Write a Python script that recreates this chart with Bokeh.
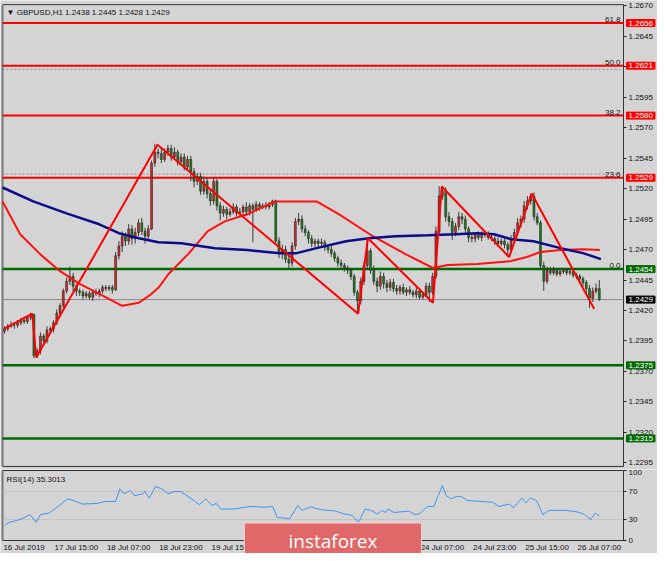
from bokeh.plotting import figure
from bokeh.layouts import column
from bokeh.models import (ColumnDataSource, Label, FixedTicker, PrintfTickFormatter,
                          LinearAxis)
from bokeh.embed import file_html
from bokeh.resources import INLINE

# ---------------- data ----------------
title_text = "\u25BC GBPUSD,H1  1.2438 1.2445 1.2428 1.2429"
rsi_title = "RSI(14) 35.3013"

first_open = 1.2403
closes = [
    1.2405, 1.2407, 1.2408, 1.2408, 1.2410, 1.2412, 1.2411, 1.2414, 1.2417, 1.2383,
    1.2387, 1.2399, 1.2395, 1.2404, 1.2405, 1.2410, 1.2418, 1.2424, 1.2436, 1.2444,
    1.2448, 1.2440, 1.2436, 1.2435, 1.2432, 1.2434, 1.2431, 1.2435, 1.2434, 1.2436,
    1.2439, 1.2438, 1.2439, 1.2437, 1.2465, 1.2473, 1.2481, 1.2477, 1.2487, 1.2479,
    1.2484, 1.2492, 1.2485, 1.2481, 1.2487, 1.2541, 1.2550, 1.2549, 1.2544, 1.2550,
    1.2553, 1.2546, 1.2550, 1.2542, 1.2546, 1.2538, 1.2544, 1.2534, 1.2526, 1.2530,
    1.2518, 1.2526, 1.2516, 1.2510, 1.2526, 1.2506, 1.2500, 1.2503, 1.2499, 1.2501,
    1.2505, 1.2500, 1.2501, 1.2505, 1.2501, 1.2506, 1.2503, 1.2507, 1.2505, 1.2506,
    1.2505, 1.2507, 1.2510, 1.2477, 1.2467, 1.2470, 1.2462, 1.2459, 1.2473, 1.2493,
    1.2495, 1.2487, 1.2484, 1.2479, 1.2475, 1.2477, 1.2475, 1.2476, 1.2472, 1.2470,
    1.2467, 1.2463, 1.2459, 1.2457, 1.2455, 1.2453, 1.2448, 1.2435, 1.2428, 1.2444,
    1.2457, 1.2469, 1.2453, 1.2444, 1.2440, 1.2448, 1.2442, 1.2439, 1.2443, 1.2438,
    1.2436, 1.2439, 1.2435, 1.2437, 1.2435, 1.2433, 1.2436, 1.2431, 1.2433, 1.2440,
    1.2435, 1.2448, 1.2485, 1.2514, 1.2518, 1.2497, 1.2493, 1.2484, 1.2489, 1.2497,
    1.2495, 1.2487, 1.2480, 1.2479, 1.2482, 1.2480, 1.2483, 1.2482, 1.2480, 1.2479,
    1.2477, 1.2475, 1.2477, 1.2474, 1.2470, 1.2479, 1.2484, 1.2492, 1.2495, 1.2506,
    1.2510, 1.2514, 1.2497, 1.2492, 1.2457, 1.2444, 1.2453, 1.2451, 1.2453, 1.2450,
    1.2452, 1.2453, 1.2451, 1.2452, 1.2449, 1.2448, 1.2446, 1.2443, 1.2438, 1.2430,
    1.2436, 1.2438, 1.2429,
]
# wick lengths in pips above max(open, close) and below min(open, close)
upper_wick = [
    2, 2, 3, 2, 2, 2, 3, 2, 1, 0,
    2, 3, 2, 3, 2, 2, 3, 2, 2, 3,
    8, 3, 2, 2, 2, 2, 2, 2, 3, 2,
    2, 2, 2, 2, 3, 4, 4, 3, 4, 3,
    4, 3, 4, 3, 3, 2, 7, 3, 4, 3,
    3, 3, 4, 2, 3, 3, 3, 3, 3, 3,
    3, 4, 3, 3, 3, 2, 3, 3, 2, 3,
    3, 2, 3, 2, 4, 2, 2, 3, 2, 2,
    3, 2, 1, 1, 3, 4, 3, 3, 3, 3,
    5, 3, 3, 2, 3, 2, 2, 3, 2, 2,
    3, 2, 2, 3, 2, 2, 2, 2, 2, 3,
    3, 10, 2, 4, 3, 4, 3, 3, 3, 3,
    3, 2, 3, 2, 3, 2, 3, 2, 2, 3,
    3, 3, 4, 8, 4, 3, 4, 3, 3, 4,
    3, 3, 2, 3, 2, 3, 2, 2, 3, 2,
    2, 3, 2, 2, 2, 3, 3, 4, 3, 4,
    4, 2, 3, 3, 2, 3, 3, 3, 3, 2,
    3, 2, 2, 3, 2, 2, 2, 2, 2, 3,
    3, 4, 7,
]
lower_wick = [
    2, 2, 1, 3, 2, 2, 2, 2, 2, 2,
    2, 3, 4, 2, 3, 3, 2, 3, 2, 2,
    3, 4, 4, 3, 3, 2, 2, 3, 2, 3,
    2, 2, 2, 3, 1, 3, 5, 4, 3, 5,
    4, 3, 3, 6, 3, 1, 3, 4, 3, 2,
    3, 3, 2, 3, 2, 3, 2, 8, 5, 3,
    3, 3, 4, 4, 3, 4, 6, 3, 4, 2,
    2, 3, 2, 3, 3, 3, 27, 2, 3, 2,
    2, 2, 2, 3, 4, 5, 3, 4, 3, 3,
    3, 3, 3, 4, 3, 3, 3, 2, 3, 3,
    3, 3, 3, 2, 3, 3, 3, 3, 11, 3,
    3, 3, 3, 3, 5, 3, 4, 4, 3, 3,
    3, 3, 2, 3, 2, 2, 3, 2, 2, 2,
    8, 2, 2, 3, 3, 4, 4, 6, 3, 3,
    4, 3, 4, 3, 3, 2, 3, 2, 2, 2,
    3, 3, 2, 3, 6, 2, 3, 3, 4, 3,
    3, 3, 3, 2, 3, 8, 2, 2, 2, 2,
    2, 2, 2, 2, 2, 2, 3, 3, 4, 8,
    3, 2, 1,
]

# ZigZag pivots (bar index, price)
zz_bar = [0, 8.5, 9.7, 46.8, 108.2, 111.2, 131.1, 133.8, 154.4, 161.3, 180.4]
zz_price = [1.24052, 1.24174, 1.23815, 1.25561, 1.24174, 1.24794, 1.24264, 1.25218, 1.24639, 1.25161, 1.24215]

# Blue moving average (bar index, price)
ma_blue_bar = [-0.6, 8.8, 19.0, 29.0, 35.0, 41.1, 47.1, 54.1, 64.4, 74.3, 84.3, 89.4, 95.5,
               104.5, 111.5, 119.6, 129.6, 137.8, 144.7, 149.8, 155.0, 161.9, 170.1, 177.0, 182.5]
ma_blue = [1.25210, 1.25096, 1.24998, 1.24908, 1.24835, 1.24794, 1.24761, 1.24753, 1.24712,
           1.24696, 1.24671, 1.24671, 1.24712, 1.24769, 1.24794, 1.24810, 1.24818, 1.24826,
           1.24835, 1.24826, 1.24786, 1.24769, 1.24712, 1.24671, 1.24622]

# Red moving average (bar index, price)
ma_red_bar = [-0.6, 4.8, 10.9, 16.9, 23.0, 29.0, 36.0, 41.1, 45.0, 47.1, 50.2, 56.2, 62.2,
              67.4, 74.3, 82.8, 95.5, 102.4, 112.7, 122.7, 131.1, 135.6, 144.7, 155.0,
              159.8, 164.0, 170.1, 177.0, 182.2]
ma_red = [1.25096, 1.24826, 1.24663, 1.24525, 1.24419, 1.24337, 1.24239, 1.24264, 1.24337,
          1.24386, 1.24500, 1.24663, 1.24851, 1.24932, 1.24990, 1.25096, 1.25096, 1.24990,
          1.24810, 1.24663, 1.24549, 1.24574, 1.24582, 1.24606, 1.24639, 1.24680, 1.24696,
          1.24704, 1.24696]

# RSI(14) points (bar index, value)
rsi_bar = [0, 1.4, 3.9, 5.8, 7.8, 9.7, 11.0, 13.5, 14.8, 16.7, 19.3, 21.2, 23.8, 28.3, 30.8,
           34.0, 35.3, 36.6, 38.5, 39.8, 42.3, 43.0, 44.3, 46.2, 48.1, 50.0, 52.0, 53.9,
           57.7, 59.6, 61.6, 63.5, 64.8, 66.1, 70.5, 75.0, 79.5, 82.1, 83.4, 85.9, 87.2,
           89.8, 91.0, 93.6, 96.8, 101.3, 103.9, 106.4, 108.3, 110.3, 112.2, 114.1, 115.4,
           116.7, 117.3, 119.2, 123.7, 125.6, 126.9, 129.5, 131.4, 132.7, 134.0, 135.2,
           136.5, 138.4, 139.7, 141.7, 146.1, 149.3, 151.3, 154.5, 155.7, 158.3, 159.6,
           160.9, 162.8, 164.7, 166.6, 171.8, 175.6, 177.5, 179.4, 180.7, 182.0]
rsi_val = [21.4, 26, 28.6, 32, 37, 26, 37, 39, 43, 50, 59.5, 57, 52, 53, 55.7,
           55.7, 73.8, 66.7, 71.4, 64, 66.7, 70, 60.5, 77, 74, 66.7, 70, 70,
           58, 51, 59.5, 50, 53, 45, 45, 48.6, 47.6, 48.6, 33, 32, 31,
           50, 43, 48, 44, 42, 38, 35.7, 26, 45, 43, 38, 43,
           40, 45, 40, 42, 37, 38, 48.6, 48.6, 64, 78.6, 64,
           59.5, 63, 63, 57, 55.7, 54.8, 48.6, 52, 46.7, 60.5, 53.8,
           61, 57, 37, 43, 43, 40.5, 37, 30, 39, 35.3]

price_ticks = [1.2295, 1.2320, 1.2345, 1.2370, 1.2395, 1.2420, 1.2445, 1.2470, 1.2495,
               1.2520, 1.2545, 1.2570, 1.2595, 1.2620, 1.2645, 1.2670]
rsi_ticks = [0, 30, 70, 100]
rsi_levels = [70, 30]

red_levels = [1.2656, 1.2621, 1.2580, 1.2529]
green_levels = [1.2454, 1.2375, 1.2315]
fib_levels = [1.2656, 1.2621, 1.2580, 1.2529, 1.2454]
fib_names = ["61.8", "50.0", "38.2", "23.6", "0.0"]
fib_dotted = [1.2618, 1.2532]
last_price = 1.2429

time_bars = [0, 16, 32, 48, 64, 80, 96, 112, 128, 144, 160, 176]
time_labels = ["16 Jul 2019", "17 Jul 15:00", "18 Jul 07:00", "18 Jul 23:00", "19 Jul 15:00",
               "22 Jul 07:00", "22 Jul 23:00", "23 Jul 15:00", "24 Jul 07:00", "24 Jul 23:00",
               "25 Jul 15:00", "26 Jul 07:00"]
watermark = "instaforex"

# ---------------- build ----------------
FONT = "Liberation Sans"
BG = "#d4d4d4"
XR = (-1.22, 199.8)      # whole canvas width, bars
AX = 189.4               # bar position of the price-axis line
LEFT = -0.6              # bar position of the left panel border
FW = 657
P_TOP, P_BOT = 1.26711, 1.22920   # main panel border prices

bars = list(range(len(closes)))
opens = [first_open] + closes[:-1]
highs = [max(o, c) + u / 10000 for o, c, u in zip(opens, closes, upper_wick)]
lows = [min(o, c) - d / 10000 for o, c, d in zip(opens, closes, lower_wick)]
tops = [max(o, c) for o, c in zip(opens, closes)]
bots = [min(o, c) for o, c in zip(opens, closes)]
colors = ["#cc2a2a" if c > o else "#1f7a1f" for o, c in zip(opens, closes)]
src = ColumnDataSource(dict(x=bars, h=highs, l=lows, top=tops, bottom=bots, color=colors))


def make_yaxis(ticks, fmt=None):
    ax = LinearAxis(fixed_location=AX, ticker=FixedTicker(ticks=ticks))
    if fmt:
        ax.formatter = PrintfTickFormatter(format=fmt)
    ax.major_label_text_font = FONT
    ax.major_label_text_font_size = "8px"
    ax.major_label_text_color = "#111111"
    ax.major_tick_in = 0
    ax.major_tick_out = 3
    ax.major_tick_line_color = "#222222"
    ax.minor_tick_out = 0
    ax.minor_tick_in = 0
    ax.major_label_standoff = 2
    ax.axis_line_color = None
    return ax


main = figure(frame_width=FW, frame_height=469, x_range=XR, y_range=(1.22895, 1.26745),
              output_backend="svg", toolbar_location=None, x_axis_location=None,
              y_axis_location=None, min_border=0,
              background_fill_color=BG, border_fill_color=BG, outline_line_color=None)
main.grid.visible = False
main.add_layout(make_yaxis(price_ticks, "%.4f"), "right")

# panel border
main.segment(x0=[LEFT, LEFT, LEFT, AX], y0=[P_TOP, P_BOT, P_BOT, P_BOT],
             x1=[AX, AX, LEFT, AX], y1=[P_TOP, P_BOT, P_TOP, P_TOP],
             line_color=["#333333", "#333333", "#7a7a7a", "#333333"],
             line_width=[1, 1, 2, 1])

main.segment(x0=LEFT, x1=AX, y0=last_price, y1=last_price, line_color="#8a8a8a", line_width=1)
main.segment(x0=[LEFT] * len(fib_dotted), x1=[AX] * len(fib_dotted), y0=fib_dotted,
             y1=fib_dotted, line_color="#8c8c8c", line_width=1, line_dash="2 2")
main.segment(x0=[LEFT] * len(red_levels), x1=[AX] * len(red_levels), y0=red_levels,
             y1=red_levels, line_color="#ff0000", line_width=2)
main.segment(x0=[LEFT] * len(green_levels), x1=[AX] * len(green_levels), y0=green_levels,
             y1=green_levels, line_color="#006a00", line_width=2.5)

main.segment(x0="x", y0="h", x1="x", y1="l", source=src, line_color="#3c3c3c", line_width=1)
main.vbar(x="x", width=0.6, top="top", bottom="bottom", source=src,
          fill_color="color", line_color="#1a1a1a", line_width=0.5)

main.line(ma_red_bar, ma_red, line_color="#ff1010", line_width=2)
main.line(ma_blue_bar, ma_blue, line_color="#0c0c8a", line_width=2.5)
main.line(zz_bar, zz_price, line_color="#ff0000", line_width=2)

for lv, nm in zip(fib_levels, fib_names):
    main.add_layout(Label(x=AX, y=lv, x_offset=-3, y_offset=1, text=nm,
                          text_align="right", text_baseline="bottom",
                          text_font=FONT, text_font_size="8px", text_color="#111111"))


def price_box(p, fill):
    main.add_layout(Label(x=AX, y=p, x_offset=3, text=f"{p:.4f}", text_align="left",
                          text_baseline="middle", text_font=FONT, text_font_size="8px",
                          text_color="white", background_fill_color=fill,
                          border_line_color=fill,
                          padding=dict(left=2, right=2, top=1, bottom=1)))


for lv in red_levels:
    price_box(lv, "#ff0000")
for lv in green_levels:
    price_box(lv, "#006a00")
price_box(last_price, "#000000")

main.add_layout(Label(x=LEFT, y=P_TOP, x_offset=4, y_offset=-3, text=title_text,
                      text_baseline="top", text_font=FONT, text_font_size="8px",
                      text_color="#111111"))

# ---------------- RSI panel ----------------
rsi = figure(frame_width=FW, frame_height=84, x_range=main.x_range, y_range=(-18.57, 101.43),
             output_backend="svg", toolbar_location=None, x_axis_location=None,
             y_axis_location=None, min_border=0,
             background_fill_color=BG, border_fill_color=BG, outline_line_color=None)
rsi.grid.visible = False
rsi.add_layout(make_yaxis(rsi_ticks), "right")

xa = LinearAxis(fixed_location=0)
label_shift = 6
xa.ticker = FixedTicker(ticks=[b + label_shift for b in time_bars])
xa.major_label_overrides = {b + label_shift: t for b, t in zip(time_bars, time_labels)}
xa.major_label_text_font = FONT
xa.major_label_text_font_size = "8px"
xa.major_label_text_color = "#111111"
xa.major_tick_out = 0
xa.major_tick_in = 0
xa.minor_tick_out = 0
xa.minor_tick_in = 0
xa.axis_line_color = None
xa.major_label_standoff = 2
rsi.add_layout(xa, "below")

rsi.segment(x0=[LEFT, LEFT, LEFT, AX], y0=[100, 0, 0, 0], x1=[AX, AX, LEFT, AX],
            y1=[100, 0, 100, 100], line_color=["#333333", "#333333", "#7a7a7a", "#333333"],
            line_width=[1, 1, 2, 1])
rsi.segment(x0=[LEFT] * len(rsi_levels), x1=[AX] * len(rsi_levels), y0=rsi_levels,
            y1=rsi_levels, line_color="#a0a0a0", line_width=1, line_dash="1 2")
rsi.line(rsi_bar, rsi_val, line_color="#3d95f0", line_width=1)
rsi.add_layout(Label(x=LEFT, y=100, x_offset=4, y_offset=-4, text=rsi_title,
                     text_baseline="top", text_font=FONT, text_font_size="8px",
                     text_color="#111111"))

rsi.add_layout(Label(x=100.5, y=-1.4, text=watermark,
                     text_align="center", text_baseline="middle", text_font="Open Sans",
                     text_font_size="19px", text_color="white",
                     background_fill_color="#e06868",
                     border_line_color="#f3d2d2", border_line_width=1,
                     padding=dict(left=44, right=44, top=5, bottom=6)))

layout = column(main, rsi, spacing=0)
open("out.html", "w").write(file_html(layout, INLINE))
